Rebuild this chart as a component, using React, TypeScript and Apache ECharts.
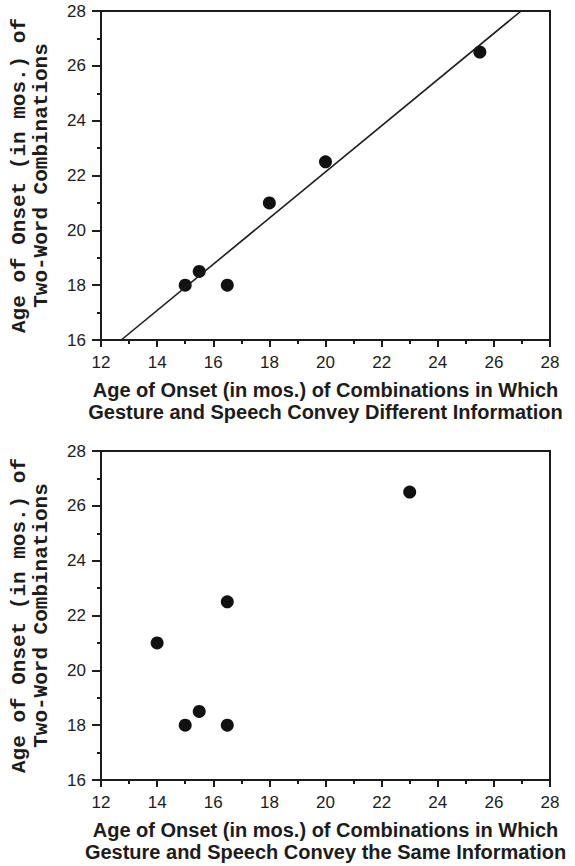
import React, { useEffect, useRef } from "react";
import * as echarts from "echarts";

// Top panel: different information
const diffPoints: [number, number][] = [
  [15, 18],
  [15.5, 18.5],
  [16.5, 18],
  [18, 21],
  [20, 22.5],
  [25.5, 26.5],
];
const diffFitLine: [number, number][] = [
  [12.72, 16],
  [26.97, 28],
];
// Bottom panel: same information
const samePoints: [number, number][] = [
  [14, 21],
  [15, 18],
  [15.5, 18.5],
  [16.5, 18],
  [16.5, 22.5],
  [23, 26.5],
];

const xMin = 12, xMax = 28, xStep = 2;
const yMin = 16, yMax = 28, yStep = 2;

const yTitle = "Age of Onset (in mos.) of\nTwo-Word Combinations";
const xTitleTop =
  "Age of Onset (in mos.) of Combinations in Which\nGesture and Speech Convey Different Information";
const xTitleBottom =
  "Age of Onset (in mos.) of Combinations in Which\nGesture and Speech Convey the Same Information";

const INK = "#1c1c1c";

function xAxisCfg(gridIndex: number, name: string) {
  return {
    type: "value",
    gridIndex,
    min: xMin,
    max: xMax,
    interval: xStep,
    name,
    nameLocation: "middle",
    nameGap: 39,
    nameTextStyle: {
      fontFamily: "Liberation Sans, Arial, sans-serif",
      fontWeight: "bold",
      fontSize: 20,
      lineHeight: 22,
      color: INK,
    },
    axisLine: { show: true, lineStyle: { color: INK, width: 2 } },
    axisTick: { show: true, length: 7, lineStyle: { color: INK, width: 2 } },
    minorTick: { show: true, splitNumber: 2, length: 4, lineStyle: { color: INK, width: 2 } },
    axisLabel: {
      margin: 14,
      fontFamily: "Liberation Sans, Arial, sans-serif",
      fontSize: 17,
      color: INK,
    },
    splitLine: { show: false },
  };
}

function yAxisCfg(gridIndex: number) {
  return {
    type: "value",
    gridIndex,
    min: yMin,
    max: yMax,
    interval: yStep,
    name: yTitle,
    nameLocation: "middle",
    nameRotate: 90,
    nameGap: 49,
    nameTextStyle: {
      fontFamily: "Courier New, Liberation Mono, monospace",
      fontWeight: "bold",
      fontSize: 21,
      lineHeight: 22,
      color: INK,
    },
    axisLine: { show: true, lineStyle: { color: INK, width: 2 } },
    axisTick: { show: true, length: 9, lineStyle: { color: INK, width: 2 } },
    minorTick: { show: true, splitNumber: 2, length: 4, lineStyle: { color: INK, width: 2 } },
    axisLabel: {
      margin: 15,
      fontFamily: "Liberation Sans, Arial, sans-serif",
      fontSize: 17,
      color: INK,
    },
    splitLine: { show: false },
  };
}

export default function App() {
  const ref = useRef<HTMLDivElement>(null);
  useEffect(() => {
    if (!ref.current) return;
    const chart = echarts.init(ref.current, null, { renderer: "svg" });
    chart.setOption({
      animation: false,
      backgroundColor: "#ffffff",
      grid: [
        { left: 97, top: 11, width: 453, height: 329, show: true, borderColor: INK, borderWidth: 2, backgroundColor: "transparent" },
        { left: 97, top: 451, width: 453, height: 329, show: true, borderColor: INK, borderWidth: 2, backgroundColor: "transparent" },
      ],
      xAxis: [xAxisCfg(0, xTitleTop), xAxisCfg(1, xTitleBottom)],
      yAxis: [yAxisCfg(0), yAxisCfg(1)],
      series: [
        {
          type: "line",
          xAxisIndex: 0,
          yAxisIndex: 0,
          data: diffFitLine,
          showSymbol: false,
          symbol: "none",
          lineStyle: { color: INK, width: 1.6 },
          silent: true,
        },
        {
          type: "scatter",
          xAxisIndex: 0,
          yAxisIndex: 0,
          data: diffPoints,
          symbol: "circle",
          symbolSize: 13,
          itemStyle: { color: "#111", opacity: 1 },
        },
        {
          type: "scatter",
          xAxisIndex: 1,
          yAxisIndex: 1,
          data: samePoints,
          symbol: "circle",
          symbolSize: 13,
          itemStyle: { color: "#111", opacity: 1 },
        },
      ],
    });
    return () => chart.dispose();
  }, []);
  return (
    <div
      ref={ref}
      style={{ position: "fixed", left: 0, top: 0, width: 575, height: 866, background: "#fff" }}
    />
  );
}
